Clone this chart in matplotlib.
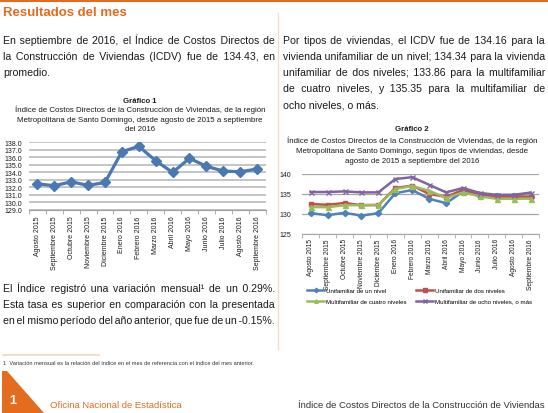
import numpy as np
import matplotlib
matplotlib.use("Agg")
import matplotlib.pyplot as plt
from matplotlib.patches import Polygon
from matplotlib.lines import Line2D

W, H = 548, 414

months = ["Agosto 2015", "Septiembre 2015", "Octubre 2015", "Noviembre 2015",
          "Diciembre 2015", "Enero 2016", "Febrero 2016", "Marzo 2016",
          "Abril 2016", "Mayo 2016", "Junio 2016", "Julio 2016",
          "Agosto 2016", "Septiembre 2016"]

icdv_total = [132.46, 132.2, 132.73, 132.24, 132.64, 136.75, 137.46, 135.54,
              133.98, 135.86, 134.8, 134.16, 134.07, 134.43]

uni_un_nivel = [130.2, 129.7, 130.3, 129.6, 130.2, 135.2, 136.0, 133.8,
                132.7, 135.6, 134.6, 134.4, 134.4, 134.16]
uni_dos_niveles = [132.5, 132.3, 132.75, 132.2, 132.25, 136.5, 137.1, 135.0,
                   134.3, 136.0, 135.0, 134.4, 134.4, 134.34]
multi_cuatro = [131.75, 131.7, 132.2, 132.2, 132.25, 136.25, 137.0, 135.8,
                134.0, 135.4, 134.4, 133.8, 133.8, 133.86]
multi_ocho = [135.5, 135.5, 135.65, 135.4, 135.4, 138.75, 139.2, 137.3,
              135.4, 136.5, 135.25, 134.8, 134.8, 135.35]

series2_labels = ["Unifamiliar de un nivel", "Unifamiliar de dos niveles",
                  "Multifamiliar de cuatro niveles", "Multifamiliar de ocho niveles, o más"]

ORANGE = "#E36C1F"
TXT = "#1a1a1a"
BODY_FONT = ["Liberation Sans", "DejaVu Sans"]
NARROW = ["Liberation Sans Narrow", "Liberation Sans"]

fig = plt.figure(figsize=(W / 100, H / 100), dpi=100)
fig.patch.set_facecolor("white")


def fx(x):
    return x / W


def fy(y):
    return 1 - y / H


renderer = fig.canvas.get_renderer()


def measure(s, fs, family):
    t = fig.text(0, 0, s, fontsize=fs, family=family)
    w = t.get_window_extent(renderer).width
    t.remove()
    return w


def justified(lines, x0, x1, y0, lh, fs, color=TXT, family=BODY_FONT, last_justify=False):
    base = measure("xx", fs, family)
    sp = measure("x x", fs, family) - base
    hair = measure("x\u200ax", fs, family) - base
    hch = "\u200a"
    if hair <= 0.2:
        hair = measure("x\u2009x", fs, family) - base
        hch = "\u2009"
    for i, line in enumerate(lines):
        words = line.split()
        y = y0 + i * lh
        is_last = (i == len(lines) - 1) and not last_justify
        s = " ".join(words)
        if not is_last and len(words) > 1 and hair > 0:
            natural = measure(s, fs, family)
            n = len(words) - 1
            extra = ((x1 - x0) - natural) / n
            parts = [words[0]]
            acc = 0.0
            if extra >= 0:
                for w in words[1:]:
                    acc += extra / hair
                    k = int(round(acc))
                    acc -= k
                    parts.append(" " + hch * k + w)
            else:
                gap = max(sp + extra, hair)
                for w in words[1:]:
                    acc += gap / hair
                    k = max(1, int(round(acc)))
                    acc -= k
                    parts.append(hch * k + w)
            s = "".join(parts)
        fig.text(fx(x0), fy(y), s, fontsize=fs, color=color, family=family,
                 va="baseline", ha="left")


# ---- page decorations ----
fig.add_artist(Line2D([0, 1], [fy(1.2), fy(1.2)], color=ORANGE, lw=2.2))
fig.add_artist(Line2D([fx(278), fx(278)], [fy(14), fy(350)], color="#F6DCC6", lw=1.0))
fig.add_artist(Line2D([fx(3), fx(99)], [fy(356), fy(356)], color="#F3D5BC", lw=1.2))
fig.add_artist(Polygon([(fx(2), fy(372)), (fx(7), fy(372)), (fx(44), fy(414)), (fx(2), fy(414))],
                       closed=True, transform=fig.transFigure, facecolor=ORANGE, edgecolor="none"))
fig.text(fx(9), fy(404), "1", fontsize=9, fontweight="bold", color="white", family=BODY_FONT,
         va="baseline")
fig.text(fx(50), fy(408), "Oficina Nacional de Estadística", fontsize=6.8, color=ORANGE,
         family=BODY_FONT, va="baseline")
fig.text(fx(545), fy(408), "Índice de Costos Directos de la Construcción de Viviendas",
         fontsize=6.8, color="#333333", family=BODY_FONT, va="baseline", ha="right")

# ---- texts ----
fig.text(fx(3), fy(16), "Resultados del mes", fontsize=9.5, fontweight="bold",
         color=ORANGE, family=BODY_FONT, va="baseline")

justified(["En septiembre de 2016, el Índice de Costos Directos de",
           "la Construcción de Viviendas (ICDV) fue de 134.43, en",
           "promedio."], 3, 275, 44, 16, 7.6)

justified(["Por tipos de viviendas, el ICDV fue de 134.16 para la",
           "vivienda unifamiliar de un nivel; 134.34 para la vivienda",
           "unifamiliar de dos niveles; 133.86 para la multifamiliar",
           "de cuatro niveles, y 135.35 para la multifamiliar de",
           "ocho niveles, o más."], 283, 545, 44, 16, 7.6)

justified(["El Índice registró una variación mensual¹ de un 0.29%.",
           "Esta tasa es superior en comparación con la presentada",
           "en el mismo período del año anterior, que fue de un -0.15%."],
          3, 275, 292, 16, 7.6, last_justify=True)

fig.text(fx(3), fy(365), "1  Variación mensual es la relación del índice en el mes de referencia con el índice del mes anterior.",
         fontsize=4.1, color="#333333", family=NARROW, va="baseline")

# chart titles
fig.text(fx(140), fy(103), "Gráfico 1", fontsize=5.6, fontweight="bold", color=TXT,
         family=BODY_FONT, ha="center", va="baseline")
for i, s in enumerate(["Índice de Costos Directos de la Construcción de Viviendas, de la región",
                       "Metropolitana de Santo Domingo, desde agosto de 2015 a septiembre",
                       "del 2016"]):
    fig.text(fx(140), fy(112 + i * 9.6), s, fontsize=5.7, color=TXT, family=BODY_FONT,
             ha="center", va="baseline")

fig.text(fx(412), fy(131), "Gráfico 2", fontsize=5.6, fontweight="bold", color=TXT,
         family=BODY_FONT, ha="center", va="baseline")
for i, s in enumerate(["Índice de Costos Directos de la Construcción de Viviendas, de la región",
                       "Metropolitana de Santo Domingo, según tipos de viviendas, desde",
                       "agosto de 2015 a septiembre del 2016"]):
    fig.text(fx(412), fy(143 + i * 10), s, fontsize=5.7, color=TXT, family=BODY_FONT,
             ha="center", va="baseline")

# ---- chart 1 ----
ax1 = fig.add_axes([fx(29), fy(210.7), (265.5 - 29) / W, (210.7 - 143.3) / H])
x = np.arange(len(months))
ax1.plot(x, icdv_total, color="#4A78B2", lw=2.3, marker="D", ms=5.4, zorder=3)
ax1.set_xlim(-0.5, len(months) - 0.5)
ax1.set_ylim(129, 138)
ax1.set_yticks(np.arange(129, 138.1, 1))
ax1.set_yticklabels([f"{v:.1f}" for v in np.arange(129, 138.1, 1)])
ax1.grid(axis="y", color="#BFBFBF", lw=1.3)
ax1.set_axisbelow(True)
for s in ["top", "right", "left"]:
    ax1.spines[s].set_visible(False)
ax1.spines["bottom"].set_color("#A0A0A0")
ax1.set_xticks(x)
ax1.set_xticklabels(months, rotation=90, fontsize=5.0, family=NARROW, color=TXT)
ax1.set_xticks(np.arange(-0.5, len(months), 1), minor=True)
ax1.tick_params(axis="x", which="major", length=0, pad=4)
ax1.tick_params(axis="x", which="minor", length=3, color="#A0A0A0")
ax1.tick_params(axis="y", length=0, labelsize=5.0, pad=5, labelcolor=TXT)
for lab in ax1.get_yticklabels():
    lab.set_family(NARROW)

# ---- chart 2 ----
ax2 = fig.add_axes([fx(302.2), fy(235), (539.2 - 302.2) / W, (235 - 175) / H])
styles = [("#4F81BD", "D", 3.2), ("#C0504D", "s", 3.2), ("#9BBB59", "^", 3.6), ("#8064A2", "x", 3.6)]
handles = []
for vals, lab, (c, m, ms) in zip([uni_un_nivel, uni_dos_niveles, multi_cuatro, multi_ocho],
                                 series2_labels, styles):
    h, = ax2.plot(x, vals, color=c, lw=1.8, marker=m, ms=ms, mew=1.0, label=lab)
    handles.append(h)
ax2.set_xlim(-0.5, len(months) - 0.5)
ax2.set_ylim(125, 140)
ax2.set_yticks([125, 130, 135, 140])
ax2.grid(axis="y", color="#A6A6A6", lw=0.9)
ax2.set_axisbelow(True)
for s in ["top", "right", "left"]:
    ax2.spines[s].set_visible(False)
ax2.spines["bottom"].set_color("#A6A6A6")
ax2.set_xticks(x)
ax2.set_xticklabels(months, rotation=90, fontsize=4.8, family=NARROW, color=TXT)
ax2.set_xticks(np.arange(-0.5, len(months), 1), minor=True)
ax2.tick_params(axis="x", which="major", length=0, pad=3)
ax2.tick_params(axis="x", which="minor", length=3, color="#A6A6A6")
ax2.tick_params(axis="y", length=0, labelsize=5.0, pad=8, labelcolor=TXT)
for lab in ax2.get_yticklabels():
    lab.set_family(NARROW)

order = [0, 2, 1, 3]
fig.legend([handles[i] for i in order], [series2_labels[i] for i in order], ncol=2,
           loc="upper left", bbox_to_anchor=(fx(307), fy(289)), frameon=False,
           prop={"family": NARROW, "size": 4.4}, handlelength=2.8, handletextpad=0.3,
           columnspacing=1.6, labelspacing=0.85, borderaxespad=0, borderpad=0,
           markerscale=0.7)

fig.savefig("out.png", dpi=100, facecolor="white")
